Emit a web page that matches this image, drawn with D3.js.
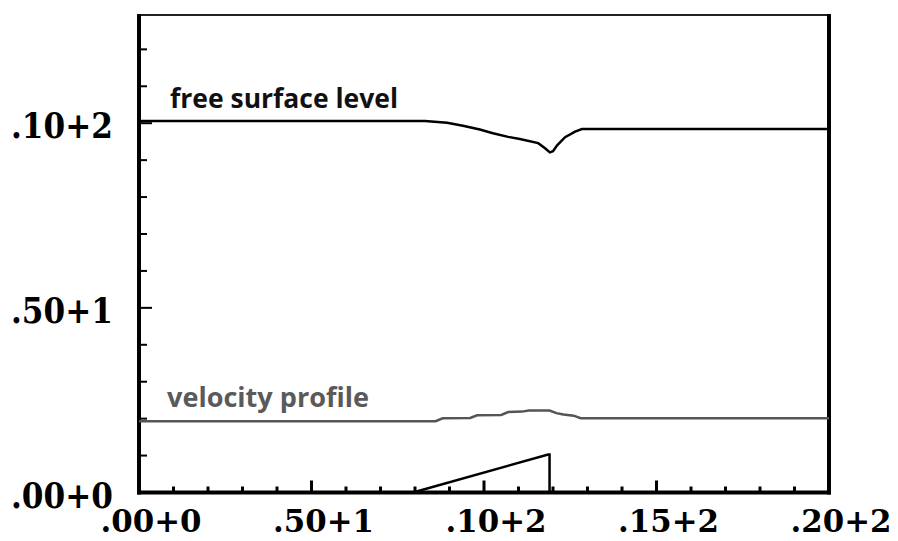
<!DOCTYPE html>
<html><head><meta charset="utf-8">
<script src="https://cdn.jsdelivr.net/npm/d3@7"></script>
<style>body{margin:0;background:#fff}</style>
</head><body>
<script>
const xTickValues = [0, 5, 10, 15, 20];
const xTickLabels = [".00+0", ".50+1", ".10+2", ".15+2", ".20+2"];
const yTickValues = [0, 5, 10];
const yTickLabels = [".00+0", ".50+1", ".10+2"];

const surfaceX = [0, 8.29, 8.93, 9.39, 9.88, 10.26, 10.70, 11.04, 11.57, 11.77, 11.91, 12.00, 12.12, 12.35, 12.64, 12.84, 20];
const surfaceY = [10.06, 10.06, 10.01, 9.93, 9.83, 9.73, 9.63, 9.57, 9.46, 9.32, 9.21, 9.24, 9.40, 9.62, 9.77, 9.84, 9.84];

const velocityX = [0, 8.6, 8.8, 9.6, 9.8, 10.5, 10.7, 11.1, 11.3, 11.9, 12.1, 12.3, 12.6, 12.8, 20];
const velocityY = [1.93, 1.93, 2.01, 2.02, 2.09, 2.10, 2.18, 2.19, 2.22, 2.22, 2.15, 2.11, 2.08, 2.01, 2.01];

const wedgeX = [7.94, 11.86, 11.9, 11.9];
const wedgeY = [0, 1.03, 1.03, 0];

const seriesLabels = ["free surface level", "velocity profile"];

const W = 898, H = 541;
const svg = d3.select("body").append("svg").attr("width", W).attr("height", H);

const x = d3.scaleLinear().domain([0, 20]).range([139, 829]);
const y = d3.scaleLinear().domain([0, 12.93]).range([492.5, 15]);

// top border
svg.append("line").attr("x1", x(0)).attr("x2", x(20)).attr("y1", 15).attr("y2", 15)
  .attr("stroke", "#222").attr("stroke-width", 2);

const gx = svg.append("g").attr("transform", `translate(0,${y(0)})`);
gx.append("line").attr("x1", x(0) - 2).attr("x2", x(20) + 2).attr("stroke", "#000").attr("stroke-width", 4);
gx.selectAll(".xt").data(d3.range(1, 20)).join("line")
  .attr("x1", d => x(d)).attr("x2", d => x(d))
  .attr("y1", 0).attr("y2", d => d % 5 === 0 ? -12 : -6)
  .attr("stroke", "#000").attr("stroke-width", 3);

const gy = svg.append("g").attr("transform", `translate(${x(0)},0)`);
gy.append("line").attr("y1", 14).attr("y2", y(0) + 2).attr("stroke", "#000").attr("stroke-width", 4);
gy.selectAll(".yt").data(d3.range(1, 13)).join("line")
  .attr("y1", d => y(d)).attr("y2", d => y(d))
  .attr("x1", 0).attr("x2", d => d % 5 === 0 ? 13 : 8)
  .attr("stroke", "#000").attr("stroke-width", 2);

// right border
svg.append("line").attr("x1", x(20)).attr("x2", x(20)).attr("y1", 14).attr("y2", y(0) + 2)
  .attr("stroke", "#000").attr("stroke-width", 4);

// tick labels
const tickFont = "'DejaVu Serif', serif";
svg.selectAll(".xl").data(xTickValues).join("text")
  .attr("x", d => x(d) + 12).attr("y", 532)
  .attr("text-anchor", "middle")
  .attr("font-family", tickFont).attr("font-weight", "bold").attr("font-size", 32)
  .attr("textLength", 101).attr("lengthAdjust", "spacingAndGlyphs")
  .text((d, i) => xTickLabels[i]);

svg.selectAll(".yl").data(yTickValues).join("text")
  .attr("x", 11).attr("y", d => y(d) + 15)
  .attr("font-family", tickFont).attr("font-weight", "bold").attr("font-size", 36)
  .attr("textLength", 102).attr("lengthAdjust", "spacingAndGlyphs")
  .text((d, i) => yTickLabels[i]);

const line = d3.line().x(d => x(d[0])).y(d => y(d[1]));

svg.append("path").datum(surfaceX.map((v, i) => [v, surfaceY[i]]))
  .attr("d", line).attr("fill", "none").attr("stroke", "#000").attr("stroke-width", 2.5);

svg.append("path").datum(velocityX.map((v, i) => [v, velocityY[i]]))
  .attr("d", line).attr("fill", "none").attr("stroke", "#555").attr("stroke-width", 2.5);

svg.append("path").datum(wedgeX.map((v, i) => [v, wedgeY[i]]))
  .attr("d", line).attr("fill", "none").attr("stroke", "#000").attr("stroke-width", 2.5);

// series labels
svg.append("text").attr("x", 170).attr("y", 108)
  .attr("font-family", "'Open Sans', sans-serif").attr("font-weight", "bold").attr("font-size", 26)
  .attr("textLength", 228).attr("lengthAdjust", "spacingAndGlyphs").attr("fill", "#111").text(seriesLabels[0]);
svg.append("text").attr("x", 167).attr("y", 407)
  .attr("font-family", "'Open Sans', sans-serif").attr("font-weight", "bold").attr("font-size", 26)
  .attr("textLength", 202).attr("lengthAdjust", "spacingAndGlyphs").attr("fill", "#5a5a5a").text(seriesLabels[1]);
</script>
</body></html>
